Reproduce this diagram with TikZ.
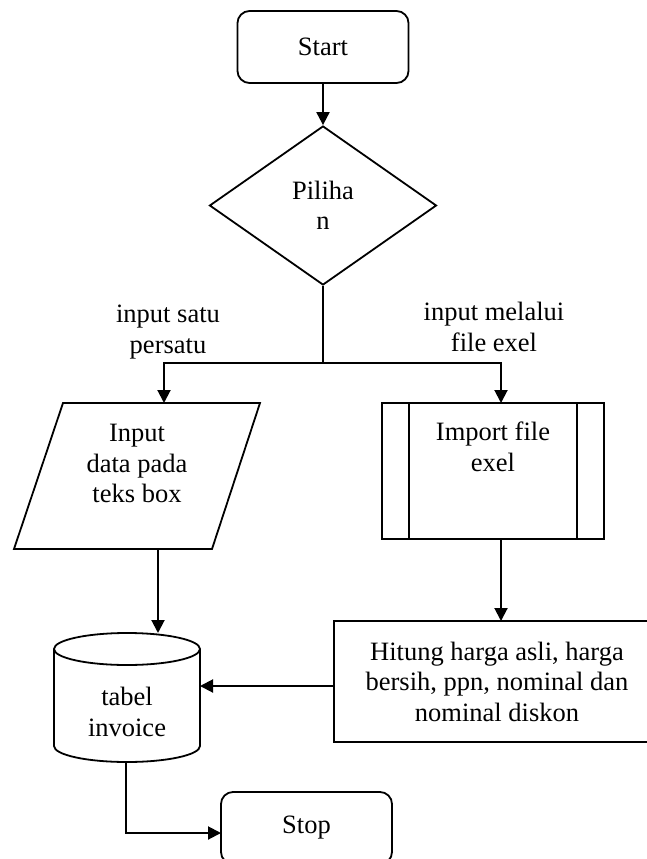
\documentclass[tikz,border=0pt]{standalone}
\usepackage{fontspec}
\setmainfont{Liberation Serif}
\usetikzlibrary{arrows.meta,shapes.geometric}
\begin{document}
\begin{tikzpicture}[x=1pt,y=-1pt,line width=1.8pt,
  every node/.style={font=\fontsize{26.5}{30.5}\selectfont, align=center, inner sep=0pt},
  box/.style={draw, rectangle, line width=1.8pt},
  rbox/.style={box, rounded corners=12pt},
  dec/.style={draw, diamond, line width=1.8pt},
  shp/.style={line width=1.8pt},
  flow/.style={line width=2pt, -{Triangle[length=13pt,width=13pt]}},
  link/.style={line width=2pt}]
\useasboundingbox (0,0) rectangle (647,859);
\clip (0,0) rectangle (647,859);

% start / decision
\node[rbox, minimum width=171pt, minimum height=72pt] (start) at (323,47) {Start};
\node[dec, minimum width=227pt, minimum height=159pt] (pil) at (323,205.5) {Piliha\\n};

% branch labels
\node (l1) at (168,332) {input satu\\persatu};
\node (l2) at (494,327) {input melalui\\file exel};

% parallelogram (input)
\draw[shp] (63,403) -- (260,403) -- (212,549) -- (14,549) -- cycle;
\node (inp) at (137,463.5) {Input\\data pada\\teks box};
\coordinate (inTop) at (164,403);
\coordinate (inBot) at (158,549);

% subroutine (import)
\node[box, minimum width=222pt, minimum height=136pt] (sub) at (493,471) {};
\draw[shp] ([xshift=28pt]sub.north west) -- ([xshift=28pt]sub.south west);
\draw[shp] ([xshift=-28pt]sub.north east) -- ([xshift=-28pt]sub.south east);
\node (subt) at (493,447) {Import file\\exel};
\coordinate (subIn) at (501,403);
\coordinate (subOut) at (501,539);

% process
\node[box, minimum width=326pt, minimum height=121pt] (hit) at (497,681.5) {Hitung harga asli, harga\\bersih, ppn, nominal dan\\nominal diskon};
\coordinate (hitIn) at (501,621);

% cylinder (database)
\draw[shp] (127,649) ellipse [x radius=73pt, y radius=16pt];
\draw[shp] (54,649) -- (54,746) arc[start angle=180, end angle=360, x radius=73pt, y radius=16pt] -- (200,649);
\node (tab) at (127,712) {tabel\\invoice};
\coordinate (cylTop) at (158,633);
\coordinate (cylRight) at (200,686);
\coordinate (cylBot) at (126,762);

% stop
\node[rbox, minimum width=171pt, minimum height=72pt] (stop) at (306.5,828) {Stop};
\coordinate (stopIn) at (221,833);

% connectors
\draw[flow] (start.south) -- (pil.north);
\coordinate (split) at (323,363);
\draw[link] (pil.south) -- (split);
\draw[flow] (split) -| (inTop);
\draw[flow] (split) -| (subIn);
\draw[flow] (inBot) -- (cylTop);
\draw[flow] (subOut) -- (hitIn);
\draw[flow] (hit.west |- cylRight) -- (cylRight);
\draw[flow] (cylBot) |- (stopIn);
\end{tikzpicture}
\end{document}
